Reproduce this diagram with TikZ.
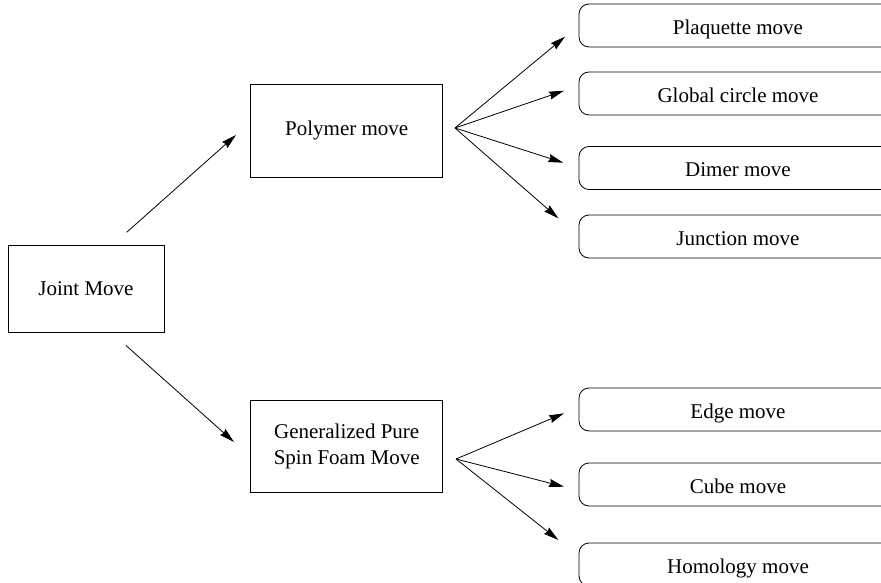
\documentclass[tikz,border=0pt]{standalone}
\usepackage{fontspec}
\setmainfont{Liberation Serif}
\usetikzlibrary{arrows.meta}
\tikzstyle{movebox}=[
    draw, rectangle,
    line width=0.8pt,
    inner sep=0pt,
    align=center,
    font=\fontsize{21}{26}\selectfont,
]
\tikzstyle{leafbox}=[
    draw, rectangle,
    rounded corners=10pt,
    line width=0.8pt,
    inner sep=0pt,
    minimum width=318pt,
    minimum height=43pt,
    text height=18pt,
    text depth=0pt,
    font=\fontsize{21}{26}\selectfont,
]
\tikzstyle{movearrow}=[
    -{Stealth[length=15pt,width=8pt,inset=1.5pt]},
    line width=0.8pt,
]

\begin{document}
\begin{tikzpicture}[x=1pt,y=1pt]
    \useasboundingbox (0,0) rectangle (881,-583);
    % main boxes
    \node[movebox, minimum width=156pt, minimum height=87pt] (joint) at (86,-288.5) {Joint Move};
    \node[movebox, minimum width=192pt, minimum height=93pt] (polymer) at (346.7,-130.7) {Polymer move};
    \node[movebox, minimum width=192pt, minimum height=92pt] (spinfoam) at (346.7,-446.7) {Generalized Pure\\Spin Foam Move};
    % leaves
    \node[leafbox] (plaquette) at (738,-25.5) {Plaquette move};
    \node[leafbox] (globalcircle) at (738,-93.5) {Global circle move};
    \node[leafbox] (dimer) at (738,-168) {Dimer move};
    \node[leafbox] (junction) at (738,-236.5) {Junction move};
    \node[leafbox] (edge) at (738,-409.5) {Edge move};
    \node[leafbox] (cube) at (738,-484.5) {Cube move};
    \node[leafbox] (homology) at (738,-564.5) {Homology move};
    % arrow ends
    \coordinate (joint-up) at (126.7,-232.3);
    \coordinate (joint-down) at (126,-345.5);
    \coordinate (polymer-in) at (236,-135);
    \coordinate (spinfoam-in) at (234,-442);
    \coordinate (polymer-fan) at (455,-128);
    \coordinate (spinfoam-fan) at (456,-459);
    \coordinate (plaquette-in) at (565,-36.7);
    \coordinate (globalcircle-in) at (564,-90.7);
    \coordinate (dimer-in) at (563.3,-162.7);
    \coordinate (junction-in) at (558.3,-218.3);
    \coordinate (edge-in) at (564,-413.3);
    \coordinate (cube-in) at (564,-486.7);
    \coordinate (homology-in) at (558.3,-540);
    % arrows
    \draw[movearrow] (joint-up) -- (polymer-in);
    \draw[movearrow] (joint-down) -- (spinfoam-in);
    \foreach \leaf in {plaquette,globalcircle,dimer,junction}
        \draw[movearrow] (polymer-fan) -- (\leaf-in);
    \foreach \leaf in {edge,cube,homology}
        \draw[movearrow] (spinfoam-fan) -- (\leaf-in);
\end{tikzpicture}
\end{document}
